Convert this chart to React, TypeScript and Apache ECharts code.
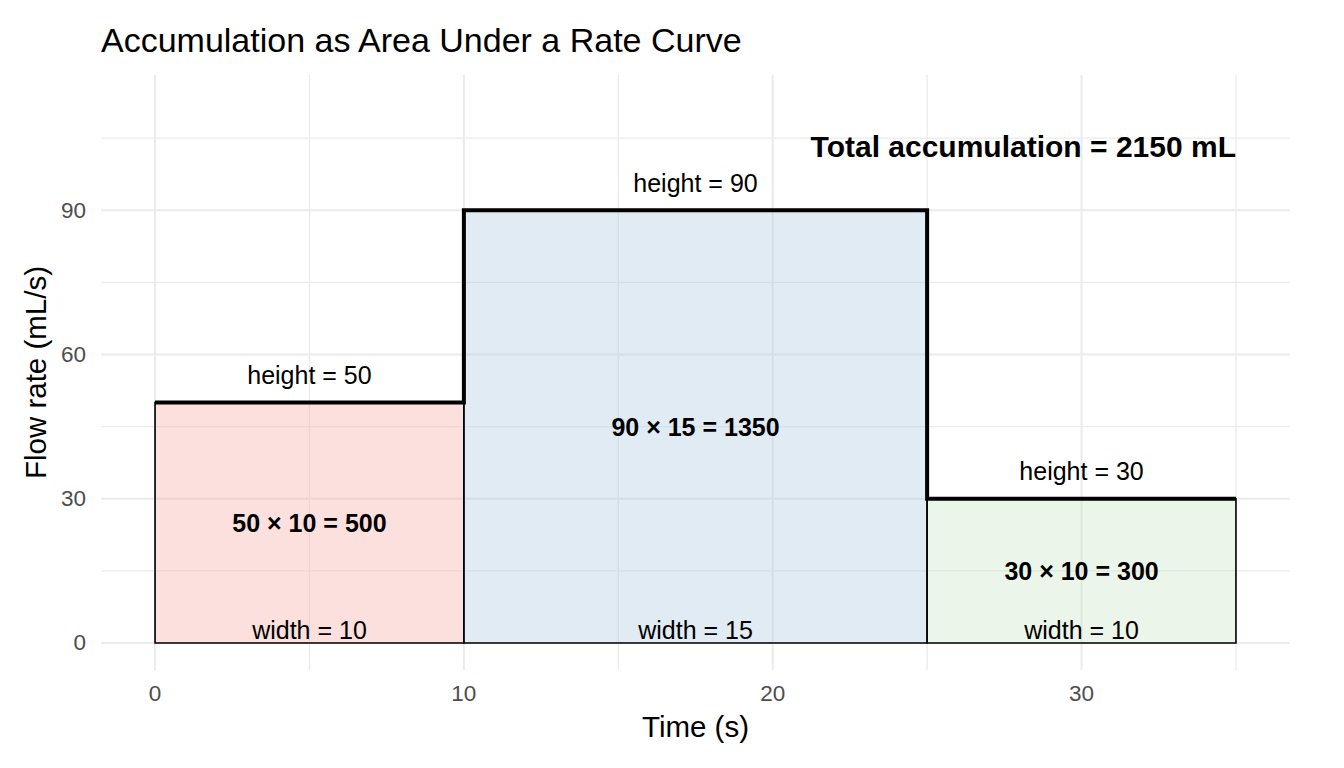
import React, { useEffect, useRef } from "react";
import * as echarts from "echarts";

// ---- data ----
const segStart = [0, 10, 25];
const segWidth = [10, 15, 10];
const segRate = [50, 90, 30];
const segFill = [
  "rgba(246,166,158,0.35)",
  "rgba(166,198,224,0.35)",
  "rgba(198,226,192,0.35)",
];
const xTicks = [0, 10, 20, 30];
const xMinor = [5, 15, 25, 35];
const yTicks = [0, 30, 60, 90];
const yMinor = [15, 45, 75, 105];
const xRange = [-1.75, 36.75];
const yRange = [-5.625, 118.125];
const titleText = "Accumulation as Area Under a Rate Curve";
const xName = "Time (s)";
const yName = "Flow rate (mL/s)";
const totalPos = [35, 103.2];

const FONT = "'Liberation Sans', Arial, sans-serif";

export default function App() {
  const ref = useRef<HTMLDivElement>(null);
  useEffect(() => {
    if (!ref.current) return;
    const chart = echarts.init(ref.current, null, { renderer: "svg" });

    const total = segRate.reduce((s, r, i) => s + r * segWidth[i], 0);

    const rects = segStart.map((s, i) => [s, s + segWidth[i], segRate[i], i]);
    const stepPts: number[][] = [];
    segStart.forEach((s, i) => {
      stepPts.push([s, segRate[i]]);
      stepPts.push([s + segWidth[i], segRate[i]]);
    });

    const heightLabels = segStart.map((s, i) => [s + segWidth[i] / 2, segRate[i] + 5.7]);
    const heightTexts = segRate.map((r) => `height = ${r}`);
    const widthLabels = segStart.map((s, i) => [s + segWidth[i] / 2, 2.7]);
    const widthTexts = segWidth.map((w) => `width = ${w}`);
    const areaLabels = segStart.map((s, i) => [s + segWidth[i] / 2, segRate[i] / 2]);
    const areaTexts = segRate.map((r, i) => `${r} × ${segWidth[i]} = ${r * segWidth[i]}`);

    const gridSeries = (vals: number[], vertical: boolean, width: number) => ({
      type: "custom",
      silent: true,
      z: 0,
      data: vals.map((v) => (vertical ? [v, 0] : [0, v])),
      renderItem: (params: any, api: any) => {
        const cs = params.coordSys;
        const p = api.coord([api.value(0), api.value(1)]);
        const shape = vertical
          ? { x1: p[0], y1: cs.y, x2: p[0], y2: cs.y + cs.height }
          : { x1: cs.x, y1: p[1], x2: cs.x + cs.width, y2: p[1] };
        return { type: "line", shape, style: { stroke: "#EBEBEB", lineWidth: width } };
      },
    });

    const textSeries = (pts: number[][], texts: string[], size: number, weight: string, align = "center") => ({
      type: "custom",
      silent: true,
      z: 10,
      data: pts,
      renderItem: (params: any, api: any) => {
        const p = api.coord([api.value(0), api.value(1)]);
        return {
          type: "text",
          x: p[0],
          y: p[1],
          style: {
            text: texts[params.dataIndex],
            fill: "#000",
            font: `${weight} ${size}px ${FONT}`,
            align,
            verticalAlign: "middle",
          },
        };
      },
    });

    chart.setOption({
      animation: false,
      backgroundColor: "#fff",
      title: {
        text: titleText,
        left: 96,
        top: 18,
        textStyle: { fontFamily: FONT, fontSize: 34, fontWeight: "normal", color: "#000" },
      },
      grid: { left: 101, right: 54, top: 75, bottom: 98 },
      xAxis: {
        type: "value",
        min: xRange[0],
        max: xRange[1],
        axisLine: { show: false },
        axisTick: { show: false },
        splitLine: { show: false },
        axisLabel: {
          customValues: xTicks,
          color: "#4D4D4D",
          fontSize: 22.5,
          fontFamily: FONT,
          margin: 12,
        },
        name: xName,
        nameLocation: "middle",
        nameGap: 41,
        nameTextStyle: { fontFamily: FONT, fontSize: 29.5, color: "#000" },
      },
      yAxis: {
        type: "value",
        min: yRange[0],
        max: yRange[1],
        axisLine: { show: false },
        axisTick: { show: false },
        splitLine: { show: false },
        axisLabel: {
          customValues: yTicks,
          color: "#4D4D4D",
          fontSize: 22.5,
          fontFamily: FONT,
          margin: 15,
        },
        name: yName,
        nameLocation: "middle",
        nameGap: 44,
        nameRotate: 90,
        nameTextStyle: { fontFamily: FONT, fontSize: 29.5, color: "#000" },
      },
      series: [
        gridSeries(xMinor, true, 1.3),
        gridSeries(yMinor, false, 1.3),
        gridSeries(xTicks, true, 2),
        gridSeries(yTicks, false, 2),
        {
          type: "custom",
          silent: true,
          z: 2,
          data: rects,
          renderItem: (params: any, api: any) => {
            const p0 = api.coord([api.value(0), api.value(2)]);
            const p1 = api.coord([api.value(1), 0]);
            return {
              type: "rect",
              shape: { x: p0[0], y: p0[1], width: p1[0] - p0[0], height: p1[1] - p0[1] },
              style: { fill: segFill[api.value(3)], stroke: "#000", lineWidth: 1.6 },
            };
          },
          encode: { x: [0, 1], y: 2 },
        },
        {
          type: "line",
          silent: true,
          z: 5,
          data: stepPts,
          symbol: "none",
          lineStyle: { color: "#000", width: 4, join: "miter", cap: "butt" },
        },
        textSeries(heightLabels, heightTexts, 25, "normal"),
        textSeries(widthLabels, widthTexts, 25, "normal"),
        textSeries(areaLabels, areaTexts, 25, "bold"),
        textSeries([totalPos], [`Total accumulation = ${total} mL`], 30, "bold", "right"),
      ],
    });
    return () => chart.dispose();
  }, []);
  return (
    <div
      ref={ref}
      style={{ position: "fixed", left: 0, top: 0, width: 1344, height: 768 }}
    />
  );
}
